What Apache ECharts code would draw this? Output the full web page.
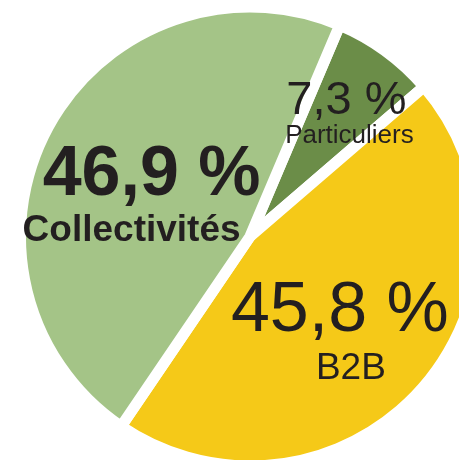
<!DOCTYPE html>
<html><head><meta charset="utf-8">
<script src="https://cdn.jsdelivr.net/npm/echarts@6/dist/echarts.min.js"></script>
<style>html,body{margin:0;padding:0;background:#fff;}#c{width:459px;height:460px;}</style>
</head><body><div id="c"></div>
<script>
const categories = ['Particuliers', 'B2B', 'Collectivités'];
const values = [7.3, 45.8, 46.9];
const colors = ['#6b8d48', '#f5c918', '#a4c487'];

// label styling per slice (style only)
const pctStyles = [
  { fontSize: 47, lineHeight: 40, fontWeight: 'normal', padding: [0, 0, 0, 0] },
  { fontSize: 70, lineHeight: 72, fontWeight: 'normal', padding: [0, 0, 0, 0] },
  { fontSize: 70, lineHeight: 67, fontWeight: 'bold', padding: [0, 0, 0, 40] }
];
const nameStyles = [
  { fontSize: 26, lineHeight: 28, fontWeight: 'normal', padding: [0, 0, 0, 6] },
  { fontSize: 37, lineHeight: 43, fontWeight: 'normal', padding: [0, 0, 0, 22] },
  { fontSize: 37, lineHeight: 43, fontWeight: 'bold', padding: [0, 0, 0, 0] }
];
const labelShift = [[27, -26], [2, 18], [-15, 17]];

const textColor = '#231f20';
const font = '"Liberation Sans", Arial, Helvetica, sans-serif';

const data = categories.map((name, i) => ({
  name,
  value: values[i],
  itemStyle: { color: colors[i] },
  label: {
    rich: {
      pct: Object.assign({ color: textColor, fontFamily: font }, pctStyles[i]),
      nm: Object.assign({ color: textColor, fontFamily: font }, nameStyles[i])
    }
  }
}));

const chart = echarts.init(document.getElementById('c'), null, { renderer: 'canvas' });
chart.setOption({
  animation: false,
  backgroundColor: '#ffffff',
  series: [{
    type: 'pie',
    center: [250, 236.5],
    radius: 229.5,
    startAngle: 67,
    clockwise: true,
    avoidLabelOverlap: false,
    silent: true,
    itemStyle: {
      borderColor: '#ffffff',
      borderWidth: 11,
      borderJoin: 'miter',
      borderMiterLimit: 20
    },
    label: {
      show: true,
      position: 'inside',
      formatter: p => '{pct|' + p.value.toFixed(1).replace('.', ',') + ' %}\n{nm|' + p.name + '}'
    },
    labelLine: { show: false },
    labelLayout: p => ({ dx: labelShift[p.dataIndex][0], dy: labelShift[p.dataIndex][1] }),
    data
  }]
});
</script>
</body></html>
